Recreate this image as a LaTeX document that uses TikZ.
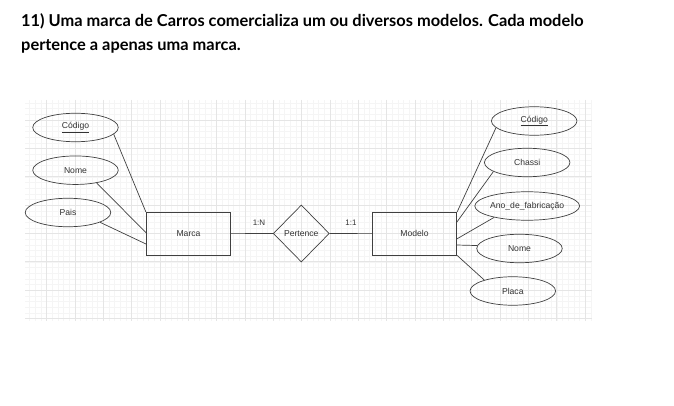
\documentclass[tikz,border=0pt]{standalone}
\usepackage{fontspec}
\setmainfont{Liberation Sans}
\newfontfamily\titlefont{Lato}
\usetikzlibrary{shapes.geometric}
\begin{document}
\begin{tikzpicture}[x=1pt,y=-1pt,
  attr/.style={draw=black!75,line width=0.7pt,ellipse,minimum width=85.5pt,minimum height=28.5pt,inner sep=0pt,font=\fontsize{8.6}{10}\selectfont,text=black!80},
  entity/.style={draw=black!75,line width=0.7pt,rectangle,minimum width=84.5pt,minimum height=42.7pt,inner sep=0pt,font=\fontsize{8.6}{10}\selectfont,text=black!80},
  rel/.style={draw=black!75,line width=0.7pt,diamond,minimum width=56pt,minimum height=57pt,inner sep=0pt,font=\fontsize{8.6}{10}\selectfont,text=black!80},
  conn/.style={draw=black!75,line width=0.7pt},
  card/.style={font=\fontsize{8}{9}\selectfont,text=black!80},
  minorgrid/.style={draw=black!4,line width=0.4pt},
  majorgrid/.style={draw=black!10,line width=0.5pt},
  ttl/.style={anchor=base west,inner sep=0pt,font=\titlefont\bfseries\fontsize{16.4}{19}\selectfont}]
\useasboundingbox (0,0) rectangle (674,406);
% grid
\begin{scope}
\clip (25,100) rectangle (592,321);
\foreach \i in {0,...,105} {
  \draw[minorgrid] ({18.33+5.667*\i},100) -- ({18.33+5.667*\i},321);
}
\foreach \i in {0,...,40} {
  \draw[minorgrid] (25,{91.7+5.667*\i}) -- (592,{91.7+5.667*\i});
}
\foreach \i in {0,...,21} {
  \draw[majorgrid] ({18.33+28.33*\i},100) -- ({18.33+28.33*\i},321);
}
\foreach \i in {0,...,8} {
  \draw[majorgrid] (25,{91.7+28.33*\i}) -- (592,{91.7+28.33*\i});
}
\end{scope}
% title
\node[ttl] (t1) at (21,27) {11) Uma marca de Carros comercializa um ou diversos modelos. Cada modelo};
\node[ttl] (t2) at (21,51) {pertence a apenas uma marca.};
% entities
\node[entity] (marca) at (188.5,233.7) {Marca};
\node[rel] (pert) at (301.3,233.5) {Pertence};
\node[entity] (modelo) at (414.5,233.7) {Modelo};
\draw[conn] (marca) -- (pert);
\draw[conn] (pert) -- (modelo);
\node[card] (c1) at (259,222.5) {1:N};
\node[card] (c2) at (351,222.5) {1:1};
% left attributes
\node[attr] (lcod) at (75.5,127.5) {\underline{Código}};
\node[attr] (lnome) at (75.5,170.2) {Nome};
\node[attr] (lpais) at (68,212.5) {Pais};
\coordinate (m1) at (146,232.7);
\coordinate (m2) at (146,244);
\draw[conn] (lcod.-10) -- (marca.north west);
\draw[conn] (lnome.-31) -- (m1);
\draw[conn] (lpais.-17) -- (m2);
% right attributes
\node[attr] (rcod) at (534.2,121) {\underline{Código}};
\node[attr] (rchassi) at (527.2,162.5) {Chassi};
\node[attr] (rano) at (527.2,206) {Ano\_de\_fabricação};
\node[attr] (rnome) at (519.5,248.5) {Nome};
\node[attr] (rplaca) at (512.8,291) {Placa};
\coordinate (n1) at (456.7,222.3);
\coordinate (n2) at (456.7,239);
\coordinate (n3) at (456.7,245);
\draw[conn] (modelo.north east) -- (rcod.190);
\draw[conn] (n1) -- (rchassi.195);
\draw[conn] (n2) -- (rano.199);
\draw[conn] (n3) -- (rnome.176);
\draw[conn] (modelo.south east) -- (rplaca.159);
\end{tikzpicture}
\end{document}
